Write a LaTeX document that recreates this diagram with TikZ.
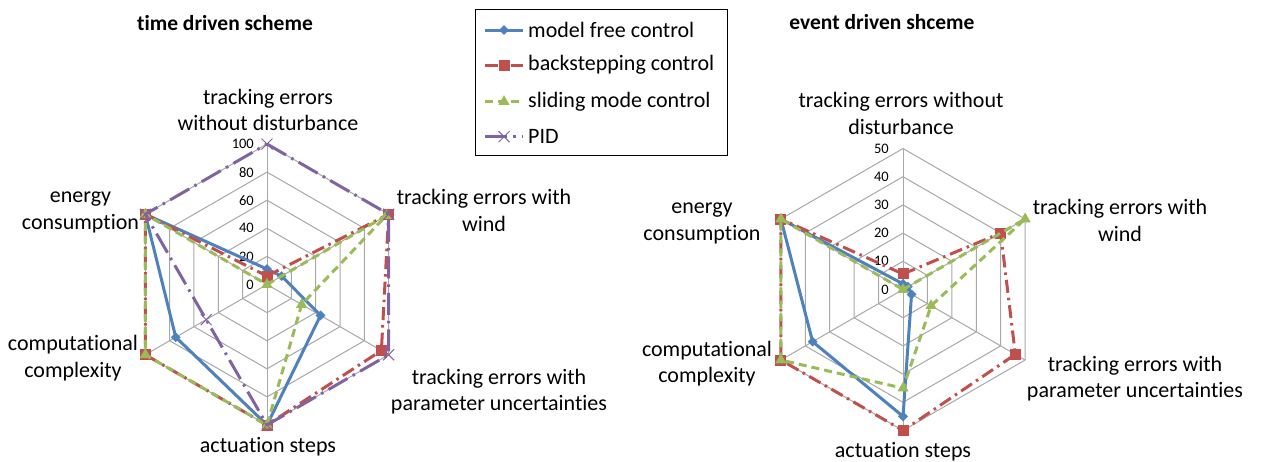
\documentclass[tikz,border=0pt]{standalone}
\usepackage{fontspec}
\setmainfont{Carlito}[Ligatures={NoCommon}]
\usetikzlibrary{calc,shapes.geometric,shapes.misc}

\definecolor{mfcblue}{HTML}{4F81BD}
\definecolor{bscred}{HTML}{C0504D}
\definecolor{smcgreen}{HTML}{9BBB59}
\definecolor{pidpurple}{HTML}{8064A2}
\definecolor{gridgray}{HTML}{A8A8A8}

% one hexagonal grid: #1 centre name, #2 outer radius
\newcommand\radargrid[2]{%
  \foreach \k in {1,...,5} {
    \draw[gridline] ($(#1)+(90:{#2*\k/5})$)
      \foreach \a in {30,-30,-90,-150,150} { -- ($(#1)+(\a:{#2*\k/5})$) } -- cycle;
  }
  \foreach \i in {0,...,5} {
    \coordinate (#1-v\i) at ($(#1)+({90-60*\i}:#2)$);
    \draw[gridline] (#1) -- (#1-v\i);
  }
}

% one data series: #1 centre, #2 px per unit, #3 name, #4 line style, #5 marker style, #6 values
\newcommand\radarseries[6]{%
  \foreach \v [count=\i from 0] in {#6} {
    \coordinate (#3-\i) at ($(#1)+({90-60*\i}:{\v*#2})$);
  }
  \draw[#4] (#3-0) -- (#3-1) -- (#3-2) -- (#3-3) -- (#3-4) -- (#3-5) -- cycle;
  \foreach \i in {0,...,5} { \node[#5] (#3-m\i) at (#3-\i) {}; }
}

\begin{document}
\begin{tikzpicture}[x=1pt,y=1pt,
  gridline/.style={draw=gridgray, line width=1pt},
  mfcline/.style={draw=mfcblue, line width=3pt, line join=round},
  bscline/.style={draw=bscred, line width=3pt, line join=round, dash pattern=on 13pt off 5pt on 2.5pt off 5pt},
  smcline/.style={draw=smcgreen, line width=3pt, line join=round, dash pattern=on 8pt off 5pt},
  pidline/.style={draw=pidpurple, line width=3pt, line join=round, dash pattern=on 22pt off 6pt on 2.5pt off 6pt},
  mkdiamond/.style={diamond, fill=mfcblue, minimum size=10pt, inner sep=0pt},
  mksquare/.style={rectangle, fill=bscred, minimum size=11pt, inner sep=0pt},
  mktriangle/.style={regular polygon, regular polygon sides=3, fill=smcgreen, minimum size=13pt, inner sep=0pt},
  mkcross/.style={cross out, draw=pidpurple, line width=1pt, minimum size=10pt, inner sep=0pt},
  axislabel/.style={font=\fontsize{22}{26.5}\selectfont, align=center, inner sep=0pt},
  titlelabel/.style={font=\fontsize{21.5}{25}\selectfont\bfseries, inner sep=0pt},
  ticklabel/.style={font=\fontsize{14.5}{17}\selectfont, anchor=east, inner sep=0pt},
  legendtext/.style={font=\fontsize{22}{26}\selectfont, anchor=west, inner sep=0pt},
]
\path[use as bounding box, fill=white] (0,0) rectangle (1264,-461);

% ---------- time driven scheme ----------
\coordinate (L) at (267,-284.5);
\radargrid{L}{140.5}
\foreach \k in {0,...,5} {
  \pgfmathtruncatemacro\val{20*\k}
  \node[ticklabel] (Lt\k) at (254,{-284.5+28.1*\k}) {\val};
}
\radarseries{L}{1.405}{Lmfc}{mfcline}{mkdiamond}{11,12,44,100,75,100}
\radarseries{L}{1.405}{Lbsc}{bscline}{mksquare}{6,100,94,100,100,100}
\radarseries{L}{1.405}{Lsmc}{smcline}{mktriangle}{0,98,28.5,100,100,100}
\radarseries{L}{1.405}{Lpid}{pidline}{mkcross}{100,100,100,100,50,100}

\node[titlelabel] (Ltitle) at (225,-23) {time driven scheme};
\node[axislabel] (La0) at (268,-110) {tracking errors\\without disturbance};
\node[axislabel] (La1) at (484,-210.5) {tracking errors with\\wind};
\node[axislabel] (La2) at (499,-391.5) {tracking errors with\\parameter uncertainties};
\node[axislabel] (La3) at (268,-447) {actuation steps};
\node[axislabel] (La4) at (73,-358) {computational\\complexity};
\node[axislabel] (La5) at (80.5,-212.5) {energy\\consumption};

% ---------- event driven scheme ----------
\coordinate (R) at (903,-289.5);
\radargrid{R}{141}
\foreach \k in {0,...,5} {
  \pgfmathtruncatemacro\val{10*\k}
  \node[ticklabel] (Rt\k) at (889,{-289.5+28.2*\k}) {\val};
}
\radarseries{R}{2.82}{Rmfc}{mfcline}{mkdiamond}{2,2,3.5,45,37,50}
\radarseries{R}{2.82}{Rbsc}{bscline}{mksquare}{5.5,40,46,50,50,50}
\radarseries{R}{2.82}{Rsmc}{smcline}{mktriangle}{0,50,11.5,35,50,50}

\node[titlelabel] (Rtitle) at (882,-22) {event driven shceme};
\node[axislabel] (Ra0) at (901,-113.5) {tracking errors without\\disturbance};
\node[axislabel] (Ra1) at (1120,-220.5) {tracking errors with\\wind};
\node[axislabel] (Ra2) at (1135,-378.5) {tracking errors with\\parameter uncertainties};
\node[axislabel] (Ra3) at (903,-452) {actuation steps};
\node[axislabel] (Ra4) at (707,-363.5) {computational\\complexity};
\node[axislabel] (Ra5) at (702,-223.5) {energy\\consumption};

% ---------- legend ----------
\node[draw=black, line width=1pt, minimum width=252pt, minimum height=146pt, inner sep=0pt] (legend) at (601,-82.5) {};
\foreach \y/\ln/\mk/\txt [count=\n] in {30/mfcline/mkdiamond/model free control,
    65/bscline/mksquare/backstepping control,
    101.7/smcline/mktriangle/sliding mode control,
    136.7/pidline/mkcross/PID} {
  \coordinate (lg\n a) at (485,-\y);
  \coordinate (lg\n b) at (523,-\y);
  \draw[\ln] (lg\n a) -- (lg\n b);
  \node[\mk] (lg\n m) at (504,-\y) {};
  \node[legendtext] (lg\n t) at (528,-\y) {\txt};
}
\end{tikzpicture}
\end{document}
